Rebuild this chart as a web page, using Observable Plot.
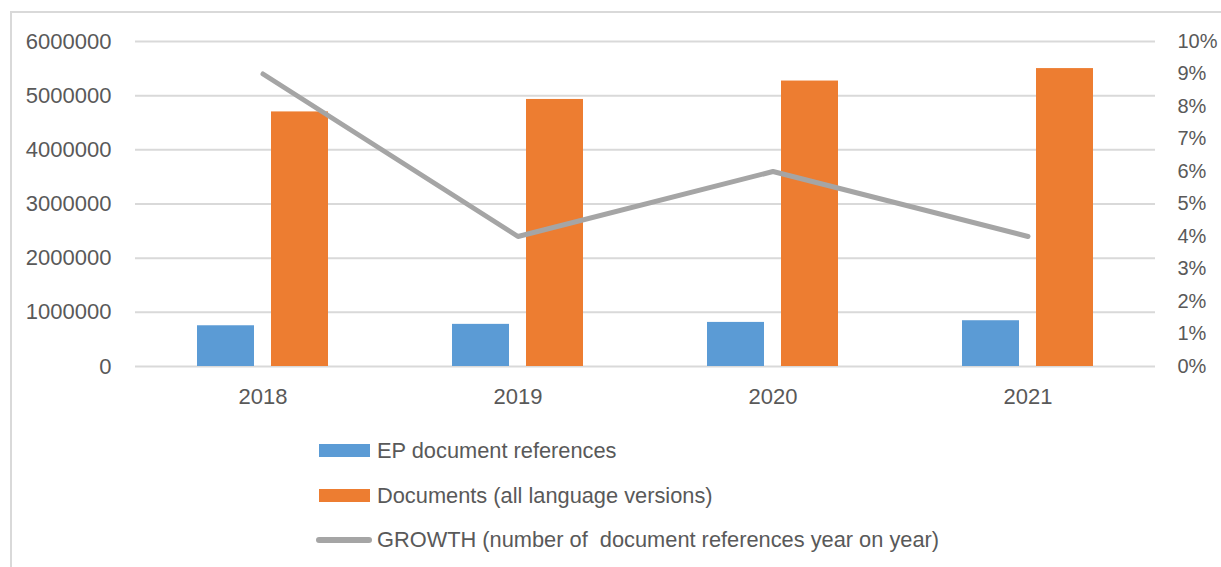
<!DOCTYPE html>
<html>
<head>
<meta charset="utf-8">
<script src="https://cdn.jsdelivr.net/npm/d3@7"></script>
<script src="https://cdn.jsdelivr.net/npm/@observablehq/plot@0.6"></script>
<style>
  html, body { margin: 0; padding: 0; background: #fff; }
  #wrap { position: relative; width: 1221px; height: 567px; overflow: hidden; font-family: "Liberation Sans", Arial, sans-serif; color: #595959; }
  #frame { position: absolute; left: 10px; top: 11px; width: 1300px; height: 700px; border-left: 2px solid #d9d9d9; border-top: 2px solid #d9d9d9; }
  #chart { position: absolute; left: 0; top: 0; }
  .leg { position: absolute; left: 316px; display: flex; align-items: center; font-size: 21.8px; color: #595959; white-space: pre; }
  .sw { width: 51px; height: 13px; margin-left: 3px; margin-right: 7px; }
  .swl { width: 56px; height: 6px; border-radius: 3px; margin-right: 5px; }
</style>
</head>
<body>
<div id="wrap">
  <div id="frame"></div>
  <div id="chart"></div>
</div>
<script>
const years = ["2018", "2019", "2020", "2021"];
const epReferences = [752000, 778000, 814000, 845000];
const documentsAll = [4700000, 4930000, 5270000, 5500000];
const growth = [0.09, 0.04, 0.06, 0.04];
const leftTicks = [0, 1000000, 2000000, 3000000, 4000000, 5000000, 6000000];
const rightTicks = [0, 0.01, 0.02, 0.03, 0.04, 0.05, 0.06, 0.07, 0.08, 0.09, 0.10];
const seriesNames = ["EP document references", "Documents (all language versions)", "GROWTH (number of  document references year on year)"];
const seriesColors = ["#5b9bd5", "#ed7d31", "#a5a5a5"];

const leftMax = 6000000, rightMax = 0.10;
const toLeft = v => v * leftMax / rightMax;

const blueData = years.map((y, i) => ({year: y, value: epReferences[i]}));
const orangeData = years.map((y, i) => ({year: y, value: documentsAll[i]}));
const lineData = years.map((y, i) => ({year: y, value: toLeft(growth[i])}));

const textColor = "#595959";
const fs = "22px";

const chart = Plot.plot({
  width: 1221,
  height: 420,
  marginLeft: 135,
  marginRight: 66,
  marginTop: 41,
  marginBottom: 54,
  style: {fontFamily: '"Liberation Sans", Arial, sans-serif', fontSize: fs, color: textColor, background: "transparent"},
  x: {domain: years, padding: 0},
  y: {domain: [0, leftMax]},
  marks: [
    Plot.ruleY(leftTicks, {stroke: "#d9d9d9", strokeWidth: 2}),
    Plot.barY(blueData, {x: "year", y: "value", fill: seriesColors[0], insetLeft: 62, insetRight: 136}),
    Plot.barY(orangeData, {x: "year", y: "value", fill: seriesColors[1], insetLeft: 136, insetRight: 62}),
    Plot.line(lineData, {x: "year", y: "value", stroke: seriesColors[2], strokeWidth: 5, strokeLinecap: "round", strokeLinejoin: "round"}),
    Plot.axisY(leftTicks, {anchor: "left", tickSize: 0, tickPadding: 24, label: null, tickFormat: d => String(d), fill: textColor, fontSize: fs}),
    Plot.axisY(rightTicks.map(toLeft), {anchor: "right", tickSize: 0, tickPadding: 22, label: null, tickFormat: d => Math.round(d / toLeft(0.01)) + "%", fill: textColor, fontSize: "20px"}),
    Plot.axisX(years, {anchor: "bottom", tickSize: 0, tickPadding: 22, label: null, fill: textColor, fontSize: fs})
  ]
});
document.getElementById("chart").appendChild(chart);

const wrap = document.getElementById("wrap");
const rowCenters = [450.5, 495.5, 540];
seriesNames.forEach((name, i) => {
  const row = document.createElement("div");
  row.className = "leg";
  row.style.top = (rowCenters[i] - 13) + "px";
  row.style.height = "26px";
  const sw = document.createElement("div");
  sw.className = i < 2 ? "sw" : "swl";
  sw.style.background = seriesColors[i];
  row.appendChild(sw);
  const t = document.createElement("span");
  t.textContent = name;
  row.appendChild(t);
  wrap.appendChild(row);
});
</script>
</body>
</html>
